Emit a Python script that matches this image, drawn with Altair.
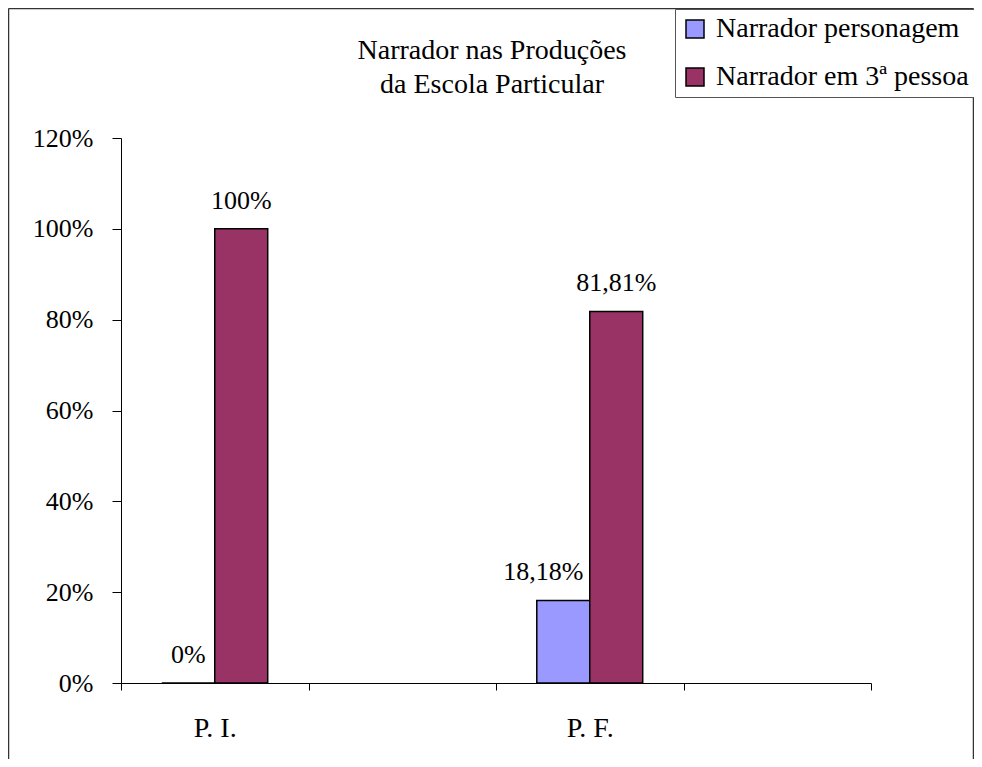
import altair as alt
import pandas as pd

categories = ["P. I.", "", "P. F.", " "]
series = ["Narrador personagem", "Narrador em 3ª pessoa"]
group = ["P. I.", "P. I.", "P. F.", "P. F."]
serie_col = [series[0], series[1], series[0], series[1]]
values = [0.0, 1.0, 0.1818, 0.8181]
labels = ["0%", "100%", "18,18%", "81,81%"]
colors = ["#9999FF", "#993366"]
title_lines = ["Narrador nas Produções", "da Escola Particular"]
y_ticks = [0, 0.2, 0.4, 0.6, 0.8, 1.0, 1.2]

df = pd.DataFrame({"grupo": group, "serie": serie_col, "valor": values, "rotulo": labels})
FONT = "Liberation Serif"

x = alt.X(
    "grupo:N",
    sort=categories,
    scale=alt.Scale(domain=categories, paddingInner=0, paddingOuter=0),
    axis=alt.Axis(
        title=None, labelAngle=0, tickBand="extent", tickSize=7, labelPadding=24,
        labelFontSize=28, labelFont=FONT, labelColor="black",
        domainColor="black", tickColor="black", domainWidth=1, tickWidth=1,
    ),
)
xo = alt.XOffset("serie:N", scale=alt.Scale(domain=series, paddingOuter=0.77, paddingInner=0))
y = alt.Y(
    "valor:Q",
    scale=alt.Scale(domain=[0, 1.2], nice=False),
    axis=alt.Axis(
        values=y_ticks, format=".0%", title=None, tickSize=9, labelPadding=19,
        labelFontSize=26, labelFont=FONT, labelColor="black",
        domainColor="black", tickColor="black", grid=False,
    ),
)
color = alt.Color(
    "serie:N",
    scale=alt.Scale(domain=series, range=colors),
    legend=alt.Legend(
        orient="none", legendX=554, legendY=-129, title=None,
        symbolType="square", symbolSize=324, symbolStrokeColor="black",
        symbolStrokeWidth=1.5, labelFontSize=28, labelFont=FONT, labelColor="black",
        labelLimit=500, labelOffset=7, padding=6, rowPadding=20,
        fillColor="white", strokeColor="#555", symbolOpacity=1,
    ),
)

base = alt.Chart(df)
bars = base.mark_bar(stroke="black", strokeWidth=1.5).encode(x=x, xOffset=xo, y=y, color=color)

sel_shift = "datum.grupo == 'P. F.' && datum.serie == 'Narrador personagem'"
text_main = base.transform_filter("!(" + sel_shift + ")").mark_text(
    font=FONT, fontSize=26, baseline="alphabetic", dy=-20, color="black"
).encode(x=x, xOffset=xo, y=y, text="rotulo:N")
text_shift = base.transform_filter(sel_shift).mark_text(
    font=FONT, fontSize=26, baseline="alphabetic", dy=-20, dx=-20, color="black"
).encode(x=x, xOffset=xo, y=y, text="rotulo:N")

one = alt.Data(values=[{"k": 1}])
title_mark = alt.Chart(one).mark_text(
    font=FONT, fontSize=28, baseline="alphabetic", align="center", lineHeight=34, color="black"
).encode(x=alt.value(371), y=alt.value(-79), text=alt.value(title_lines))

border_left = alt.Chart(one).mark_rule(color="#333", strokeWidth=1.5).encode(
    x=alt.value(-112.5), y=alt.value(-129.5), y2=alt.value(640))
border_top = alt.Chart(one).mark_rule(color="#333", strokeWidth=1.5).encode(
    x=alt.value(-112.5), x2=alt.value(852.5), y=alt.value(-129.5))
border_right = alt.Chart(one).mark_rule(color="#333", strokeWidth=1.5).encode(
    x=alt.value(852.5), y=alt.value(-129.5), y2=alt.value(640))

chart = alt.layer(
    border_left, border_top, border_right, title_mark, bars, text_main, text_shift
).properties(
    width=750,
    height=545,
    background="white",
    padding={"left": 113, "top": 130, "right": 103, "bottom": 76},
    autosize=alt.AutoSizeParams(type="none"),
).configure_view(stroke=None)

chart.save("out.html", embed_options={"renderer": "svg", "actions": False})
